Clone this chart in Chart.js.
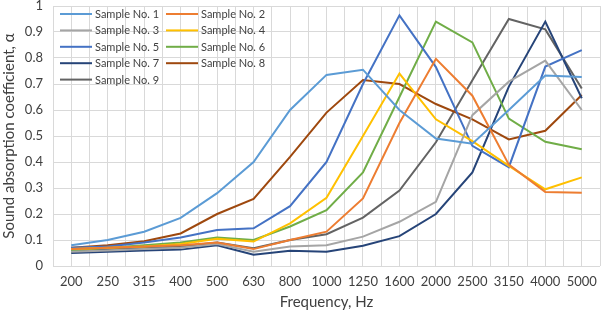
<!DOCTYPE html>
<html>
<head>
<meta charset="utf-8">
<script src="https://cdn.jsdelivr.net/npm/chart.js@4/dist/chart.umd.min.js"></script>
<style>
html,body{margin:0;padding:0;background:#fff;}
#wrap{width:602px;height:311px;position:relative;}
</style>
</head>
<body>
<div id="wrap"><canvas id="c" width="602" height="311"></canvas></div>
<script>
const categories = ["200","250","315","400","500","630","800","1000","1250","1600","2000","2500","3150","4000","5000"];
const yTicks = [0,0.1,0.2,0.3,0.4,0.5,0.6,0.7,0.8,0.9,1];
const sample1 = [0.08,0.10,0.132,0.185,0.28,0.40,0.60,0.735,0.755,0.60,0.49,0.47,0.60,0.733,0.727];
const sample2 = [0.065,0.07,0.075,0.08,0.09,0.065,0.10,0.132,0.26,0.55,0.797,0.655,0.39,0.285,0.282];
const sample3 = [0.055,0.06,0.065,0.07,0.085,0.055,0.075,0.08,0.113,0.17,0.247,0.58,0.709,0.79,0.60];
const sample4 = [0.065,0.07,0.075,0.085,0.105,0.094,0.164,0.262,0.50,0.74,0.564,0.48,0.385,0.295,0.341];
const sample5 = [0.07,0.075,0.09,0.11,0.138,0.145,0.23,0.40,0.70,0.964,0.765,0.462,0.38,0.767,0.83];
const sample6 = [0.06,0.07,0.08,0.09,0.11,0.10,0.152,0.215,0.36,0.65,0.94,0.86,0.567,0.478,0.449];
const sample7 = [0.05,0.055,0.06,0.063,0.08,0.043,0.059,0.055,0.078,0.115,0.20,0.36,0.69,0.94,0.645];
const sample8 = [0.07,0.08,0.095,0.125,0.20,0.258,0.42,0.59,0.715,0.70,0.623,0.564,0.487,0.52,0.658];
const sample9 = [0.06,0.065,0.07,0.075,0.09,0.068,0.10,0.122,0.186,0.29,0.476,0.714,0.95,0.91,0.683];
const seriesNames = ["Sample No. 1","Sample No. 2","Sample No. 3","Sample No. 4","Sample No. 5","Sample No. 6","Sample No. 7","Sample No. 8","Sample No. 9"];
const seriesColors = ["#5B9BD5","#ED7D31","#A5A5A5","#FFC000","#4472C4","#70AD47","#264478","#9E480E","#636363"];
const allSeries = [sample1,sample2,sample3,sample4,sample5,sample6,sample7,sample8,sample9];

const FONT = "Lato, 'Open Sans', sans-serif";

const datasets = allSeries.map((s,k)=>({
  label: seriesNames[k],
  data: s.map((v,i)=>({x:i,y:v})),
  borderColor: seriesColors[k],
  backgroundColor: seriesColors[k],
  borderWidth: 2,
  pointRadius: 0,
  tension: 0,
  fill: false
}));

const innerLegend = {
  id:'innerLegend',
  afterDatasetsDraw(chart){
    const ctx = chart.ctx;
    ctx.save();
    ctx.font = "11px " + FONT;
    ctx.textBaseline = 'middle';
    ctx.textAlign = 'left';
    chart.data.datasets.forEach((ds,k)=>{
      const col = k % 2, row = Math.floor(k/2);
      const x0 = col === 0 ? 60 : 166;
      const y = 14 + row*16.4;
      ctx.strokeStyle = ds.borderColor;
      ctx.lineWidth = 2;
      ctx.beginPath(); ctx.moveTo(x0,y); ctx.lineTo(x0+32,y); ctx.stroke();
      ctx.fillStyle = '#404040';
      ctx.fillText(ds.label, x0+35, y+0.5);
    });
    ctx.restore();
  }
};

new Chart(document.getElementById('c'), {
  type:'line',
  data:{datasets},
  options:{
    responsive:false,
    animation:false,
    layout:{padding:{left:0,right:2,top:6,bottom:0}},
    plugins:{legend:{display:false},tooltip:{enabled:false}},
    scales:{
      x:{
        type:'linear',
        min:-0.5, max:categories.length-0.5,
        afterBuildTicks(scale){
          const t=[]; for(let v=-0.5; v<=categories.length-0.5+1e-9; v+=0.5) t.push({value:v});
          scale.ticks=t;
        },
        ticks:{
          autoSkip:false, maxRotation:0,
          color:'#404040', font:{family:FONT,size:13},
          padding:8,
          callback:(v)=> Number.isInteger(v) ? categories[v] : ''
        },
        grid:{color:'#d9d9d9', lineWidth:1, drawTicks:false},
        border:{display:false},
        title:{display:true,text:'Frequency, Hz',color:'#404040',font:{family:FONT,size:15},padding:{top:1,bottom:0}},
        afterFit(scale){ scale.height = 45; scale.paddingLeft = 0; scale.paddingRight = 0; }
      },
      y:{
        min:0,max:1,
        afterBuildTicks(scale){ scale.ticks = yTicks.map(v=>({value:v})); },
        ticks:{color:'#404040', font:{family:FONT,size:13}, padding:10,
          callback:(v)=> String(Math.round(v*10)/10)},
        grid:{color:'#d9d9d9', lineWidth:1, drawTicks:false},
        border:{display:false},
        title:{display:true,text:'Sound absorption coefficient, α',color:'#404040',font:{family:FONT,size:15},padding:{top:0,bottom:1}},
        afterFit(scale){ scale.width = 53; scale.paddingTop = 0; scale.paddingBottom = 0; }
      }
    }
  },
  plugins:[innerLegend]
});
</script>
</body>
</html>
